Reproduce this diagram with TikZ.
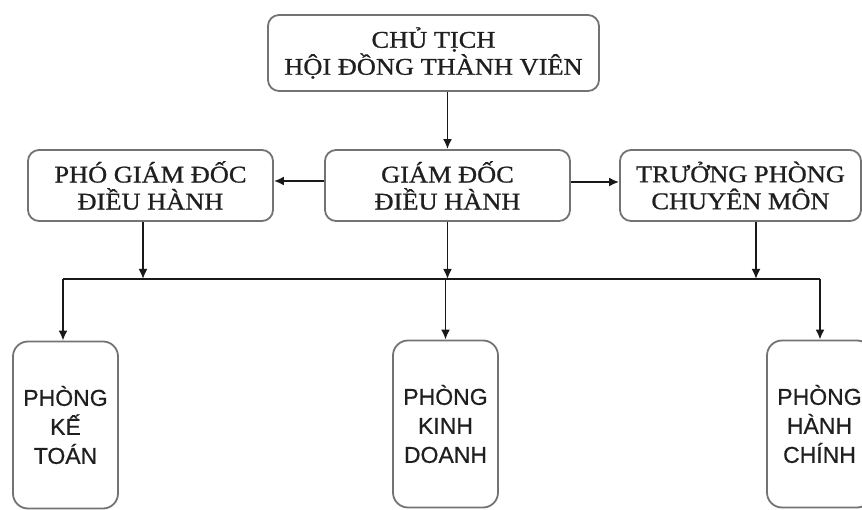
\documentclass[tikz,border=0pt]{standalone}
\usepackage{fontspec}
\setmainfont{Liberation Serif}[FakeStretch=1.1, FakeBold=0.8]
\newfontfamily\phongfont{Liberation Sans}[FakeBold=0.6]
\usetikzlibrary{arrows.meta}

\tikzset{
  topbox/.style={draw=black!55, line width=1.8pt, rounded corners=11pt, fill=white,
    align=center, text=black!88, inner sep=0pt,
    font=\fontsize{24}{27}\selectfont},
  phongbox/.style={draw=black!55, line width=1.8pt, rounded corners=15pt, fill=white,
    align=center, text=black!88, inner sep=0pt, minimum width=105pt, minimum height=167pt,
    font=\phongfont\fontsize{23}{29}\selectfont},
  arr/.style={-{Latex[length=10pt,width=9pt]}, line width=1.9pt, black!90},
  bus/.style={line width=1.9pt, black!90}
}

\begin{document}
\begin{tikzpicture}[x=1pt,y=-1pt]
\useasboundingbox (0,0) rectangle (862,510);

% upper boxes
\node[topbox, minimum width=331pt, minimum height=76pt] (chutich) at (433.5,53) {CHỦ TỊCH\\HỘI ĐỒNG THÀNH VIÊN};
\node[topbox, minimum width=245pt, minimum height=71pt] (pgd) at (150.5,185.5) {PHÓ GIÁM ĐỐC\\ĐIỀU HÀNH};
\node[topbox, minimum width=245pt, minimum height=71pt] (gd) at (447.5,185.5) {GIÁM ĐỐC\\ĐIỀU HÀNH};
\node[topbox, minimum width=241pt, minimum height=71pt] (tp) at (740.5,185.5) {TRƯỞNG PHÒNG\\CHUYÊN MÔN};

% phong ban
\node[phongbox] (kt) at (65.5,425) {PHÒNG\\KẾ\\TOÁN};
\node[phongbox] (kd) at (445.5,424) {PHÒNG\\KINH\\DOANH};
\node[phongbox] (hc) at (819.5,424) {PHÒNG\\HÀNH\\CHÍNH};

\coordinate (busl) at (63,279);
\coordinate (busr) at (820,279);

% connectors
\draw[arr] (chutich.south -| gd.north) -- (gd.north);
\draw[arr] (gd.west |- 0,181) -- (pgd.east |- 0,181);
\draw[arr] (gd.east |- 0,182) -- (tp.west |- 0,182);
\draw[arr] ([xshift=-7.5pt]pgd.south) -- ([xshift=-7.5pt]pgd.south |- busl);
\draw[arr] (gd.south) -- (gd.south |- busl);
\draw[arr] ([xshift=15.5pt]tp.south) -- ([xshift=15.5pt]tp.south |- busl);
\draw[bus] (busl) -- (busr);
\draw[arr] (busl) -- (busl |- kt.north);
\draw[arr] (kd.north |- busl) -- (kd.north);
\draw[arr] (busr) -- (busr |- hc.north);
\end{tikzpicture}
\end{document}
